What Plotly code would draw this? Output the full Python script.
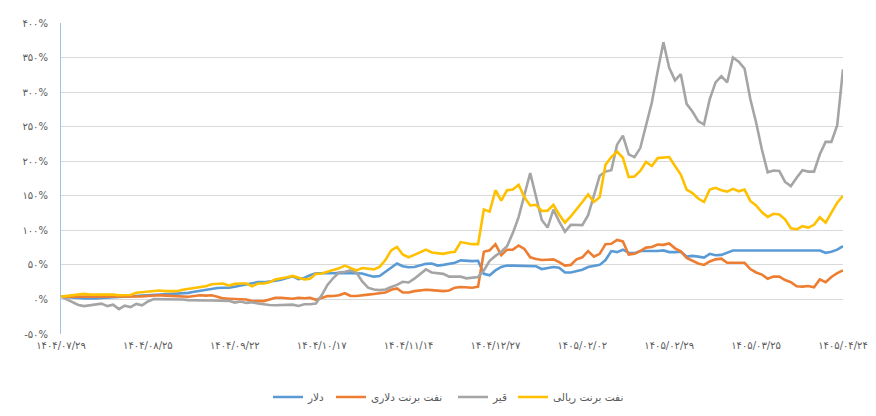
import plotly.graph_objects as go

# ---- data (values in percent) ----
tick_labels = ["۱۴۰۴/۰۷/۲۹", "۱۴۰۴/۰۸/۲۵", "۱۴۰۴/۰۹/۲۲", "۱۴۰۴/۱۰/۱۷", "۱۴۰۴/۱۱/۱۴",
               "۱۴۰۴/۱۲/۲۷", "۱۴۰۵/۰۲/۰۲", "۱۴۰۵/۰۲/۲۹", "۱۴۰۵/۰۳/۲۵", "۱۴۰۵/۰۴/۲۴"]
tick_positions = [0, 15, 30, 45, 60, 75, 90, 105, 120, 135]

y_tick_values = [-50, 0, 50, 100, 150, 200, 250, 300, 350, 400]
y_tick_labels = ["-۵۰%", "۰%", "۵۰%", "۱۰۰%", "۱۵۰%", "۲۰۰%", "۲۵۰%", "۳۰۰%", "۳۵۰%", "۴۰۰%"]

names = ["دلار", "نفت برنت دلاری", "قیر", "نفت برنت ریالی"]
colors = ["#5B9BD5", "#ED7D31", "#A5A5A5", "#FFC000"]

dollar = [4, 3, 2.5, 2, 1.5, 1, 1.5, 2, 2.5, 3, 3.5, 4, 4, 4, 4.5, 5, 6, 6.5, 7, 8,
          8.5, 9, 9.5, 11, 12.5, 13.5, 15, 16.5, 17, 17, 18.5, 20, 21, 23, 25, 25, 25.5, 27, 28.5, 31,
          33.5, 29.5, 31, 35, 38, 38, 37.6, 38, 38.5, 38.5, 38.5, 38, 37.6, 35, 33, 34, 40, 47, 52, 48,
          46.5, 47, 49, 51.5, 52, 49, 50, 51, 53, 56.5, 55.5, 55.5, 56, 37, 35, 42, 47, 49, 49, 49,
          49, 48, 48, 44, 45, 47, 46, 39, 39, 41, 43, 47, 48, 50, 57, 70, 68.5, 72, 67.5, 67,
          70, 70, 69, 70, 71, 68.5, 68.5, 69, 62, 63, 62, 60.5, 66, 64, 64.5, 68, 70.8, 70.8, 70.8, 70.8,
          70.8, 70.8, 70.8, 70.8, 70.8, 70.8, 70.8, 70.8, 70.8, 70.8, 70.8, 70.8, 67.5, 69, 72, 77]

brent_usd = [4, 4, 3.5, 4, 4, 3.5, 3.5, 4, 4, 4, 4, 4, 4, 4.5, 4.5, 5, 6, 6, 5.5, 5,
             4.5, 4, 4, 5, 6, 5.5, 6, 4, 1.5, 1, 0.5, 0.5, 0, -2.4, -2.4, -2.4, 0, 2.4, 2.5, 1.7,
             1, 2.4, 1.7, 2.4, -0.5, 2, 4.8, 5, 6, 9, 5, 5, 5.5, 7, 8, 8.5, 10, 14, 16, 10,
             10, 12, 13, 14, 13.5, 13, 12, 13, 17, 18, 18, 17, 18.5, 69, 71, 80, 64, 72, 72, 78,
             73, 61, 58.5, 57, 57.5, 58, 54, 49, 50, 58, 61, 70, 62, 66, 80, 80.5, 86, 84, 65, 66,
             70, 75, 76, 79.5, 79, 81, 74, 69.5, 60, 56, 52, 50, 55, 58, 59, 53, 53, 52, 53, 44,
             39, 36, 30, 33, 33, 28, 25, 19, 18.5, 19.5, 17.5, 29, 25, 32.5, 38, 42]

bitumen = [4, 0, -5, -8, -9.6, -8.5, -7, -6, -9.6, -7.5, -14, -9, -11, -6.5, -8.5, -3, 0.5, 0.5, 0.5, 0.5,
           0.5, 0, -1, -1.5, -1.5, -1.5, -1.5, -1.5, -1.5, -2, -4.5, -3, -5, -4, -6, -7.5, -8, -8.5, -8, -7.5,
           -7.5, -9.5, -7, -7, -6, 6, 21, 31, 39, 40, 42, 39, 26, 17, 14.5, 13.5, 14.5, 18, 21, 25.5,
           24.5, 30, 37, 43.5, 39, 38.5, 37, 33, 32.8, 33, 30.5, 31.5, 32.5, 42, 56, 63, 69, 77, 96, 119,
           150, 183, 149, 115, 104, 130, 113, 98, 108, 107.5, 107.5, 122, 150, 179, 185, 187, 224, 237, 210, 206,
           219, 250, 285, 330, 372, 335, 317, 326, 283, 272, 258, 253, 290, 314, 323, 314, 350, 344, 334, 290,
           256, 217, 184, 186.5, 186, 170, 164, 176, 187, 185, 185, 210, 228, 228, 252, 333]

brent_irr = [4, 5, 6, 8, 8, 7, 7, 7.5, 7, 7, 6, 6, 6.5, 9.6, 10.5, 12, 13, 13, 12, 12,
             12, 14, 15, 16, 17.5, 19, 22, 22.5, 23, 20, 22.5, 23, 23, 19, 23, 23, 25, 29, 30, 32,
             34, 31.5, 29, 30, 37, 37.6, 40, 43, 45, 49, 46, 42, 45.5, 45, 43.5, 47, 57, 71, 76, 65,
             61, 64.5, 68, 72, 68, 67, 66, 68, 69, 83, 81, 80, 80, 130, 127, 158, 143, 158, 159, 166,
             148, 136, 137, 128, 128.5, 137, 123, 111, 120, 130, 141, 152, 141, 148, 195, 206, 214, 205, 177, 178,
             186, 199, 193, 204.5, 205.5, 206, 193, 180.6, 159, 154, 146, 141, 159, 161.5, 158, 156, 160, 156.5, 159, 142.5,
             136, 126, 119.5, 124, 123, 116, 103, 101.5, 106, 104, 108, 119, 111, 126, 140, 150]

series = [dollar, brent_usd, bitumen, brent_irr]
x_index = list(range(len(dollar)))

FONT = "DejaVu Sans, Noto Sans, sans-serif"
W, H = 876, 416

# legend entry placement (left edge of each line sample, in pixels)
legend_ids = ["legend", "legend2", "legend3", "legend4"]
legend_left_px = [275, 338, 460, 520]

fig = go.Figure()
for name, vals, col, lid in zip(names, series, colors, legend_ids):
    fig.add_trace(go.Scatter(
        x=x_index, y=vals, mode="lines", name=name,
        line=dict(color=col, width=2.6),
        hoverinfo="skip", legend=lid,
    ))

layout_legends = {}
for lid, px in zip(legend_ids, legend_left_px):
    layout_legends[lid] = dict(
        orientation="h", xref="container", yref="container",
        x=(px - 7) / W, xanchor="left", y=1 - 397 / H, yanchor="middle",
        font=dict(size=10.5, color="#595959", family=FONT),
        bgcolor="rgba(0,0,0,0)", itemwidth=30,
    )

fig.update_layout(
    width=W, height=H,
    margin=dict(l=61, r=33, t=23, b=82, autoexpand=False),
    paper_bgcolor="white", plot_bgcolor="white",
    font=dict(family=FONT, size=10, color="#595959"),
    showlegend=True,
    **layout_legends,
)
fig.update_xaxes(
    range=[0, len(dollar) - 1], automargin=False,
    tickmode="array", tickvals=tick_positions, ticktext=tick_labels,
    showgrid=False, zeroline=False, showline=False,
    ticks="", ticklabelstandoff=4,
    tickfont=dict(size=10, color="#595959"),
)
fig.update_yaxes(
    range=[-50, 400], automargin=False,
    tickmode="array", tickvals=y_tick_values, ticktext=y_tick_labels,
    showgrid=True, gridcolor="#D9D9D9", gridwidth=1,
    zeroline=False, showline=True, linecolor="#9DC3E6", linewidth=1,
    ticks="", ticklabelstandoff=10,
    tickfont=dict(size=10, color="#595959"),
)

fig.write_html("out.html")
